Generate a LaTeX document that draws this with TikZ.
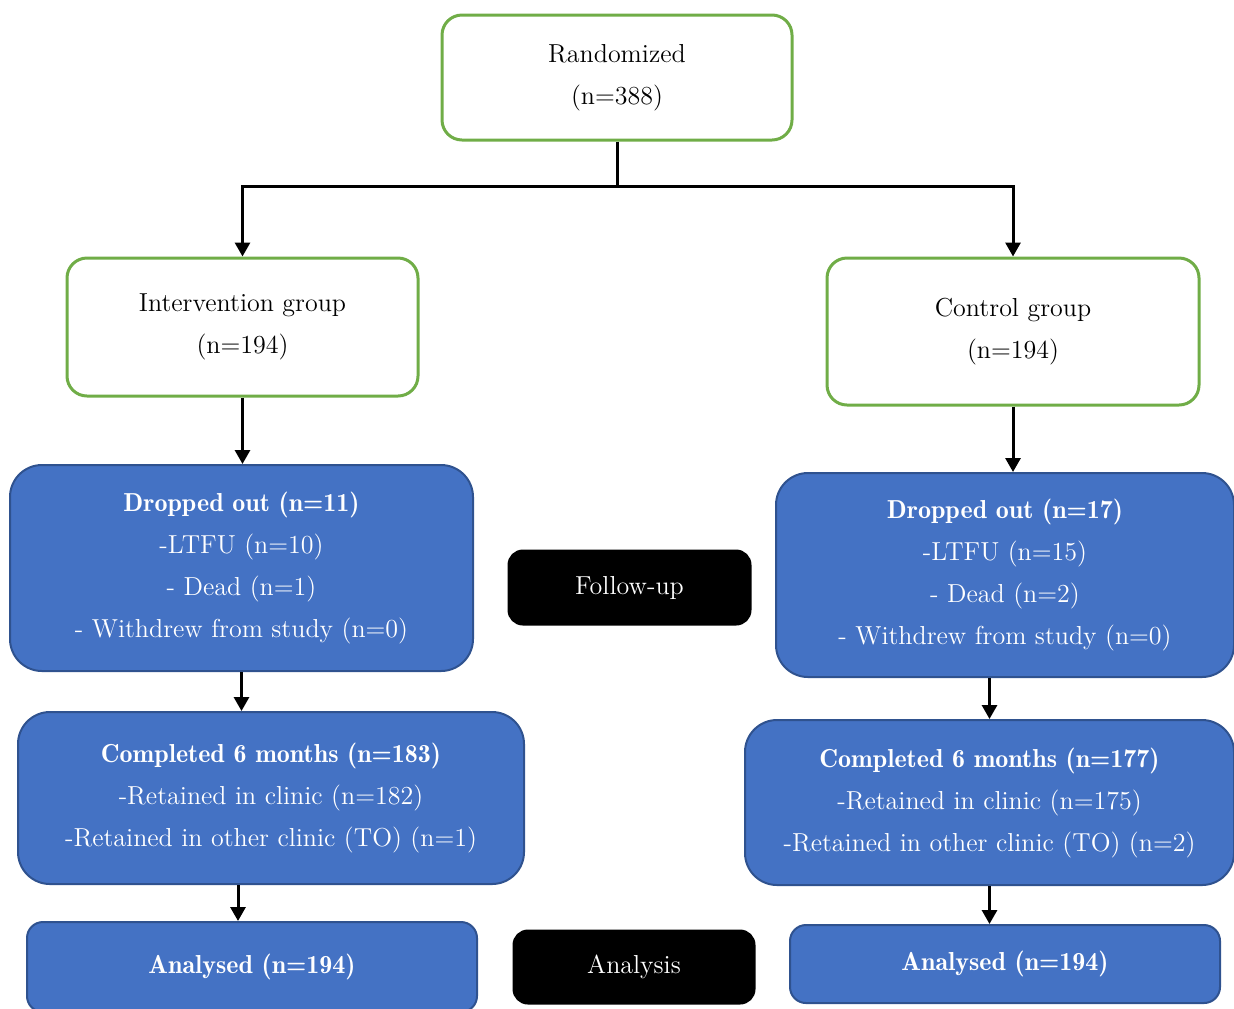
\documentclass[tikz,border=0pt]{standalone}
\usepackage{tikz}
\usetikzlibrary{arrows.meta}
\definecolor{boxblue}{HTML}{4472C4}
\definecolor{boxedge}{HTML}{2F528F}
\definecolor{boxgreen}{HTML}{70AD47}
\tikzset{every path/.style={line width=1.5pt}}
\newcommand{\headline}[1]{{\fontseries{b}\selectfont #1}}
\tikzset{
  greenbox/.style={draw=boxgreen, fill=white, rounded corners=10pt, align=center,
    font=\fontsize{13}{21}\selectfont},
  bluebox/.style={draw=boxedge, line width=1pt, fill=boxblue, text=white, rounded corners=16pt,
    align=center, font=\fontsize{13}{21}\selectfont},
  blackbox/.style={draw=black, fill=black, text=white, rounded corners=7pt, align=center,
    font=\fontsize{13}{21}\selectfont},
  flow/.style={-{Triangle[length=7pt,width=7.5pt]}}
}

\begin{document}
\begin{tikzpicture}[x=0.5pt,y=-0.5pt]
\useasboundingbox (0,0) rectangle (1234,1008);

\node[greenbox, minimum width=175pt, minimum height=62.5pt] (rand) at (617,77.5) {Randomized\\(n=388)};
\node[greenbox, minimum width=175.5pt, minimum height=69pt] (interv) at (242.5,327) {Intervention group\\(n=194)};
\node[greenbox, minimum width=186pt, minimum height=73.5pt] (ctrl) at (1013,331.5) {Control group\\(n=194)};

\node[bluebox, minimum width=231.5pt, minimum height=103pt] (dropL) at (241.5,568)
  {\headline{Dropped out (n=11)}\\-LTFU (n=10)\\- Dead (n=1)\\- Withdrew from study (n=0)};
\node[bluebox, minimum width=229pt, minimum height=102pt] (dropR) at (1005,575)
  {\headline{Dropped out (n=17)}\\-LTFU (n=15)\\- Dead (n=2)\\- Withdrew from study (n=0)};
\node[blackbox, minimum width=120.5pt, minimum height=36.5pt] (follow) at (629.5,587.5) {Follow-up};

\node[bluebox, minimum width=253pt, minimum height=86pt] (compL) at (271,798)
  {\headline{Completed 6 months (n=183)}\\-Retained in clinic (n=182)\\-Retained in other clinic (TO) (n=1)};
\node[bluebox, minimum width=244.5pt, minimum height=82.5pt] (compR) at (989.5,802.5)
  {\headline{Completed 6 months (n=177)}\\-Retained in clinic (n=175)\\-Retained in other clinic (TO) (n=2)};

\node[bluebox, rounded corners=8pt, minimum width=225pt, minimum height=45pt] (anaL) at (252,967) {\headline{Analysed (n=194)}};
\node[bluebox, rounded corners=8pt, minimum width=215pt, minimum height=39pt] (anaR) at (1005,964) {\headline{Analysed (n=194)}};
\node[blackbox, minimum width=120pt, minimum height=36pt] (analysis) at (634,967) {Analysis};

\coordinate (split) at (617,186);
\draw (rand.south) -- (split);
\draw[flow] (split) -| (interv.north);
\draw[flow] (split) -| (ctrl.north);
\draw[flow] (interv.south) -- (interv.south |- dropL.north);
\draw[flow] (ctrl.south) -- (ctrl.south |- dropR.north);
\draw[flow] (dropL.south) -- (dropL.south |- compL.north);
\draw[flow] (dropR.south -| compR.north) -- (compR.north);
\draw[flow] ([xshift=-7pt]anaL.north |- compL.south) -- ([xshift=-7pt]anaL.north);
\draw[flow] (compR.south) -- (compR.south |- anaR.north);
\end{tikzpicture}
\end{document}
